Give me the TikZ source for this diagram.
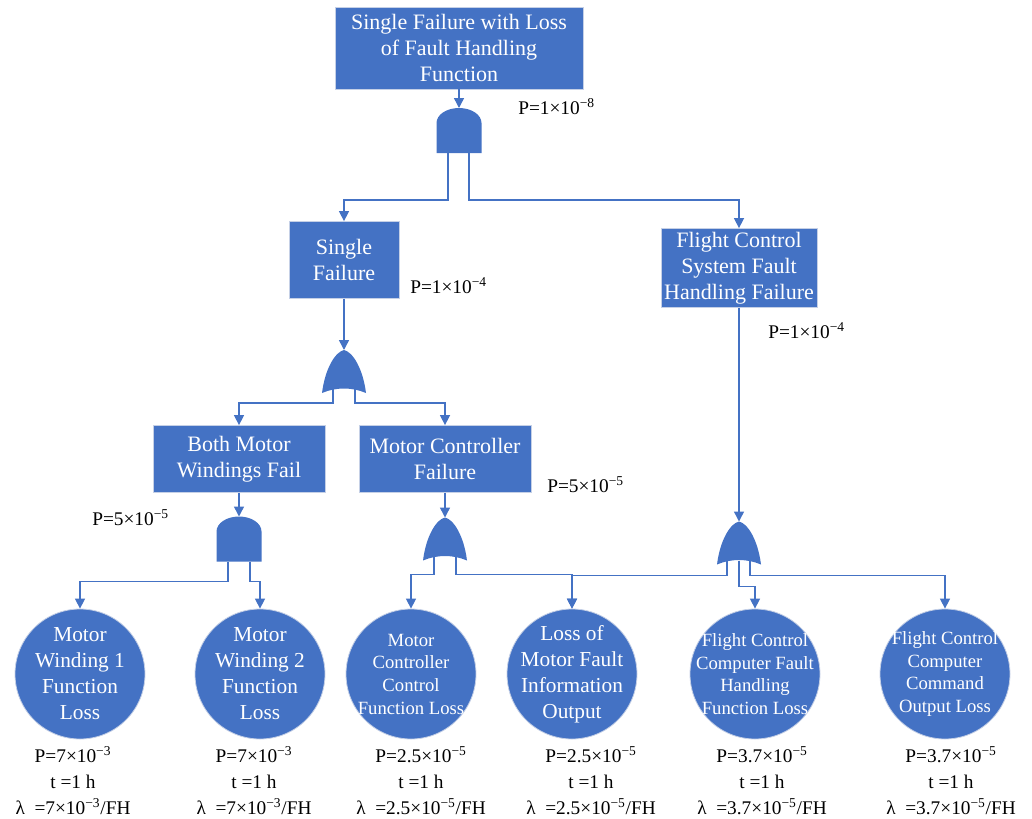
\documentclass[tikz,border=0pt]{standalone}
\usepackage{fontspec}
\setmainfont{Liberation Serif}
\usetikzlibrary{arrows.meta,calc}
\definecolor{faultblue}{HTML}{4472C4}
\definecolor{edgegray}{HTML}{C5D0E6}

\begin{document}
\begin{tikzpicture}[
  x=0.75pt, y=0.75pt,
  box/.style={draw=edgegray, line width=0.6pt, fill=faultblue, text=white, align=center, inner sep=0pt, font=\fontsize{16.5}{19.5}\selectfont},
  basic/.style={circle, draw=edgegray, line width=0.6pt, fill=faultblue, text=white, align=center, inner sep=-30pt, minimum size=97.5pt, font=\fontsize{16}{19.5}\selectfont},
  smalltext/.style={font=\fontsize{14}{17}\selectfont},
  prob/.style={align=center, inner sep=0pt, font=\fontsize{14.5}{19.5}\selectfont},
  andgate/.style={minimum width=33.75pt, minimum height=33.75pt, inner sep=0pt, outer sep=0pt},
  orgate/.style={minimum width=33pt, minimum height=32.25pt, inner sep=0pt, outer sep=0pt},
  arrow/.style={draw=faultblue, line width=1.1pt, -{Triangle[length=7.5pt,width=7.5pt]}}
]
\useasboundingbox (0,0) rectangle (1032,-818);

% events
\node[box, minimum width=186pt, minimum height=61.5pt] (top) at (459,-48)
  {Single Failure with Loss\\of Fault Handling\\Function};
\node[box, minimum width=82.5pt, minimum height=57.75pt] (sf) at (344,-260)
  {Single\\Failure};
\node[box, minimum width=117pt, minimum height=59.25pt] (fcs) at (739,-268)
  {Flight Control\\System Fault\\Handling Failure};
\node[box, minimum width=129pt, minimum height=50.25pt] (bm) at (239,-459)
  {Both Motor\\Windings Fail};
\node[box, minimum width=129pt, minimum height=50.25pt] (mc) at (445,-459)
  {Motor Controller\\Failure};

% gates
\node[andgate] (g1) at (459,-130.5) {};
\node[orgate] (g2) at (344,-371.5) {};
\node[andgate] (g3) at (239,-539) {};
\node[orgate] (g4) at (445,-539) {};
\node[orgate] (g5) at (739,-543) {};

\foreach \g in {g1,g3}
  \fill[faultblue] (\g.south west) -- ++(0,30)
    arc[start angle=180, end angle=0, x radius=22.5, y radius=15]
    -- (\g.south east) -- cycle;
\foreach \g in {g2,g4,g5}
  \fill[faultblue] (\g.south west) .. controls +(3,24) and +(-9,-2) .. (\g.north)
    .. controls +(9,-2) and +(-3,24) .. (\g.south east)
    .. controls +(-14,6) and +(14,6) .. (\g.south west) -- cycle;

% basic events
\node[basic] (c1) at (80,-674) {Motor\\Winding 1\\Function\\Loss};
\node[basic] (c2) at (260,-674) {Motor\\Winding 2\\Function\\Loss};
\node[basic, smalltext] (c3) at (411,-674) {Motor\\Controller\\Control\\Function Loss};
\node[basic] (c4) at (572,-674) {Loss of\\Motor Fault\\Information\\Output};
\node[basic, smalltext] (c5) at (755,-674) {Flight Control\\Computer Fault\\Handling\\Function Loss};
\node[basic, smalltext] (c6) at (945,-674) {Flight Control\\Computer\\Command\\Output Loss};

% probabilities
\node[prob, anchor=west] (p1) at (518,-107) {P=1×10\textsuperscript{−8}};
\node[prob, anchor=west] (p2) at (410,-286) {P=1×10\textsuperscript{−4}};
\node[prob, anchor=west] (p3) at (768,-331) {P=1×10\textsuperscript{−4}};
\node[prob, anchor=west] (p4) at (547,-485) {P=5×10\textsuperscript{−5}};
\node[prob, anchor=west] (p5) at (92,-518) {P=5×10\textsuperscript{−5}};

\node[prob, anchor=north] (r1) at (73,-746)
  {P=7×10\textsuperscript{−3}\\t =1 h\\λ\ \ =7×10\textsuperscript{−3}/FH};
\node[prob, anchor=north] (r2) at (254,-746)
  {P=7×10\textsuperscript{−3}\\t =1 h\\λ\ \ =7×10\textsuperscript{−3}/FH};
\node[prob, anchor=north] (r3) at (421,-746)
  {P=2.5×10\textsuperscript{−5}\\t =1 h\\λ\ \ =2.5×10\textsuperscript{−5}/FH};
\node[prob, anchor=north] (r4) at (591,-746)
  {P=2.5×10\textsuperscript{−5}\\t =1 h\\λ\ \ =2.5×10\textsuperscript{−5}/FH};
\node[prob, anchor=north] (r5) at (762,-746)
  {P=3.7×10\textsuperscript{−5}\\t =1 h\\λ\ \ =3.7×10\textsuperscript{−5}/FH};
\node[prob, anchor=north] (r6) at (951,-746)
  {P=3.7×10\textsuperscript{−5}\\t =1 h\\λ\ \ =3.7×10\textsuperscript{−5}/FH};

% connectors
\draw[arrow] (top.south) -- (g1.north);
\draw[arrow] ($(g1.south)+(-11,0)$) -- ++(0,-47) -| (sf.north);
\draw[arrow] ($(g1.south)+(10,0)$) -- ++(0,-47) -| (fcs.north);

\draw[arrow] (sf.south) -- (g2.north);
\draw[arrow] ($(g2.south)+(-11,4)$) -- ++(0,-14) -| (bm.north);
\draw[arrow] ($(g2.south)+(11,4)$) -- ++(0,-14) -| (mc.north);

\draw[arrow] (bm.south) -- (g3.north);
\draw[arrow] ($(g3.south)+(-11,0)$) -- ++(0,-20) -| (c1.north);
\draw[arrow] ($(g3.south)+(11,0)$) -- ++(0,-20) -| (c2.north);

\draw[arrow] (mc.south) -- (g4.north);
\draw[arrow] ($(g4.south)+(-11,4)$) -- ++(0,-18) -| (c3.north);
\draw[arrow] ($(g4.south)+(11,4)$) -- ++(0,-18) -| (c4.north);

\draw[arrow] (fcs.south) -- (g5.north);
\draw[arrow] ($(g5.south)+(-12,4)$) -- ++(0,-15) -| (c4.north);
\draw[arrow] ($(g5.south)+(0,4)$) -- ++(0,-26) -| (c5.north);
\draw[arrow] ($(g5.south)+(11,4)$) -- ++(0,-15) -| (c6.north);

\end{tikzpicture}
\end{document}
